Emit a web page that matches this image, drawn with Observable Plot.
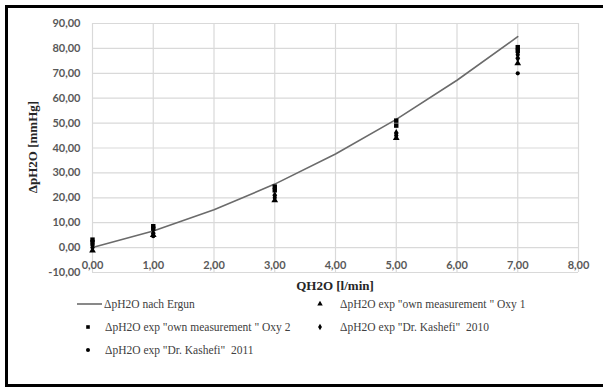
<!DOCTYPE html>
<html><head><meta charset="utf-8">
<script src="https://cdn.jsdelivr.net/npm/d3@7"></script>
<script src="https://cdn.jsdelivr.net/npm/@observablehq/plot@0.6"></script>
<style>
body{margin:0;background:#fff;}
#chart{position:relative;width:603px;height:390px;}
</style></head>
<body><div id="chart"></div>
<script>
// Ergun model curve
const qErgun = [0, 1, 2, 3, 4, 5, 6, 7];
const dpErgun = [0, 6.7, 15.2, 25.5, 37.6, 51.5, 67.2, 84.7];
// own measurement Oxy 1 (triangles)
const qOxy1 = [0, 1, 3, 5, 7];
const dpOxy1 = [-1.2, 5.0, 19.0, 44.0, 74.0];
// own measurement Oxy 2 (squares)
const qOxy2 = [0, 0, 1, 1, 3, 3, 5, 5, 7, 7];
const dpOxy2 = [3.2, 2.2, 8.6, 7.6, 24.5, 23.0, 51.0, 49.0, 80.5, 79.0];
// Dr. Kashefi 2010 (diamonds)
const qK2010 = [0, 1, 3, 5, 7];
const dpK2010 = [1.0, 5.8, 21.0, 46.0, 76.0];
// Dr. Kashefi 2011 (circles)
const qK2011 = [0, 1, 3, 5, 7, 7];
const dpK2011 = [0.0, 4.6, 20.0, 45.0, 77.5, 70.0];

const xTicks = [0, 1, 2, 3, 4, 5, 6, 7, 8];
const yTicks = [-10, 0, 10, 20, 30, 40, 50, 60, 70, 80, 90];
const xTitle = "QH2O [l/min]";
const yTitle = "ΔpH2O [mmHg]";
const legendLabels = [
  "ΔpH2O nach Ergun",
  "ΔpH2O exp \"own measurement \" Oxy 1",
  "ΔpH2O exp \"own measurement \" Oxy 2",
  "ΔpH2O exp \"Dr. Kashefi\"  2010",
  "ΔpH2O exp \"Dr. Kashefi\"  2011"
];

const fmt = d => d.toFixed(2).replace(".", ",");
const toPts = (xs, ys) => xs.map((x, i) => ({x, y: ys[i]}));
const ergun = toPts(qErgun, dpErgun);
const oxy1 = toPts(qOxy1, dpOxy1);
const oxy2 = toPts(qOxy2, dpOxy2);
const k2010 = toPts(qK2010, dpK2010);
const k2011 = toPts(qK2011, dpK2011);

const tickFont = "Lato, 'Liberation Sans', sans-serif";
const serif = "'Liberation Serif', 'DejaVu Serif', serif";

const plot = Plot.plot({
  width: 603, height: 390,
  marginLeft: 92, marginRight: 25, marginTop: 23, marginBottom: 118,
  style: {fontFamily: tickFont, fontSize: "11px", color: "#595959", background: "#fff"},
  x: {domain: [0, 8], axis: null},
  y: {domain: [-10, 90], axis: null},
  marks: [
    Plot.gridX(xTicks, {stroke: "#d9d9d9", strokeOpacity: 1, strokeWidth: 1.2}),
    Plot.gridY(yTicks, {stroke: "#d9d9d9", strokeOpacity: 1, strokeWidth: 1.2}),
    Plot.axisY(yTicks, {tickSize: 0, tickPadding: 12, tickFormat: fmt, label: null, fontWeight: "bold", fill: "#595959"}),
    Plot.text(xTicks, {x: d => d, y: 0, dy: 18, text: d => fmt(d), fontWeight: "bold", fill: "#595959", fontSize: 11, fontFamily: tickFont}),
    Plot.line(ergun, {x: "x", y: "y", stroke: "#6b6b6b", strokeWidth: 1.6}),
    Plot.dot(oxy1, {x: "x", y: "y", symbol: "triangle", fill: "#000", r: 2.5}),
    Plot.dot(oxy2, {x: "x", y: "y", symbol: "square", fill: "#000", r: 2.5}),
    Plot.dot(k2010, {x: "x", y: "y", symbol: "diamond", fill: "#000", r: 2.5}),
    Plot.dot(k2011, {x: "x", y: "y", symbol: "circle", fill: "#000", r: 2.1})
  ]
});
document.getElementById("chart").appendChild(plot);

const svg = d3.select(plot);
// axis titles
svg.append("text").attr("x", 335).attr("y", 290).attr("text-anchor", "middle")
  .attr("font-family", serif).attr("font-size", 13).attr("font-weight", "bold").attr("fill", "#262626")
  .text(xTitle);
svg.append("text").attr("transform", "translate(37,147) rotate(-90)").attr("text-anchor", "middle")
  .attr("font-family", serif).attr("font-size", 13).attr("font-weight", "bold").attr("fill", "#262626")
  .text(yTitle);

// legend
const leg = svg.append("g").attr("font-family", serif).attr("font-size", 11.5).attr("fill", "#404040").attr("text-anchor", "start");
const items = [
  {sym: "line", x: 77, y: 304, tx: 104},
  {sym: d3.symbolTriangle, x: 320, y: 304, tx: 340},
  {sym: d3.symbolSquare, x: 88, y: 327, tx: 105},
  {sym: d3.symbolDiamond, x: 320, y: 327, tx: 340},
  {sym: d3.symbolCircle, x: 88, y: 350, tx: 105}
];
items.forEach((it, i) => {
  if (it.sym === "line") {
    leg.append("line").attr("x1", it.x).attr("x2", it.x + 25).attr("y1", it.y).attr("y2", it.y)
      .attr("stroke", "#6b6b6b").attr("stroke-width", 1.6);
  } else {
    leg.append("path").attr("d", d3.symbol(it.sym, 13)()).attr("transform", `translate(${it.x},${it.y})`).attr("fill", "#000");
  }
  leg.append("text").attr("x", it.tx).attr("y", it.y).attr("dy", "0.35em").text(legendLabels[i]);
});

// outer frame
svg.append("path").attr("d", "M603,6.5 H6.5 V385.5 H603").attr("fill", "none").attr("stroke", "#000").attr("stroke-width", 3);
</script></body></html>
